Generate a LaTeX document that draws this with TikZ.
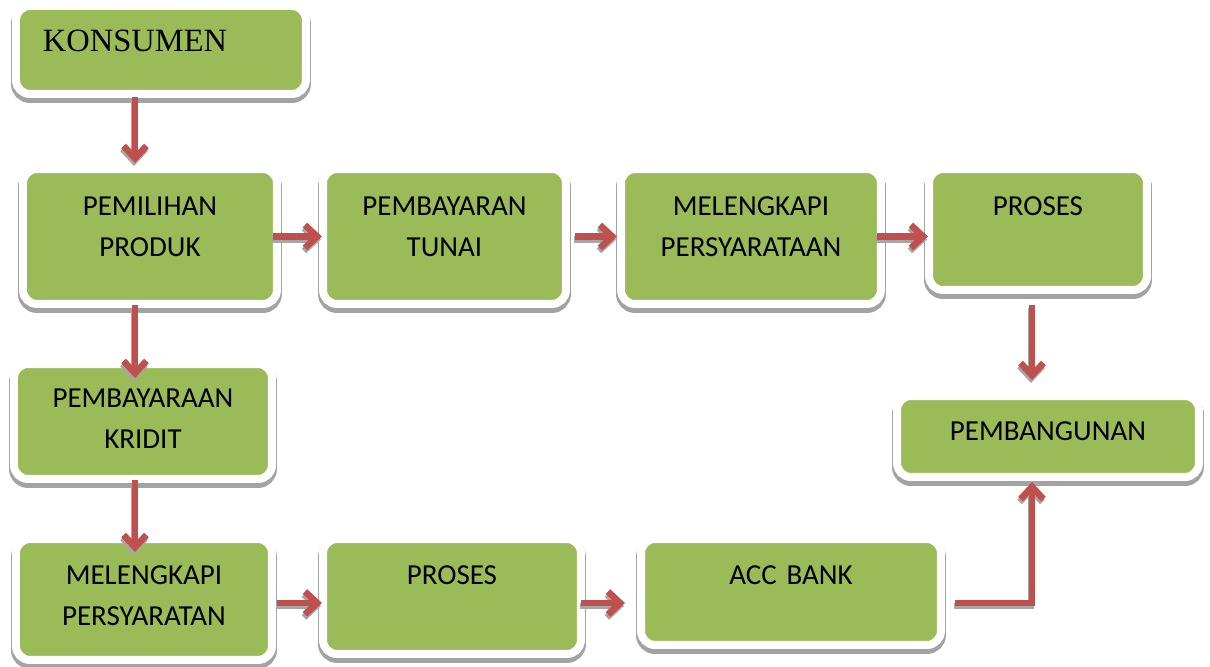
\documentclass[tikz,border=0pt]{standalone}
\usepackage{fontspec}
\setmainfont{Carlito}
\newfontfamily\kfont{Liberation Serif}
\usetikzlibrary{arrows.meta}
\definecolor{boxgreen}{HTML}{9BBB59}
\definecolor{flowred}{HTML}{C0504D}
\definecolor{shadegray}{HTML}{A3A3A3}
\tikzset{
  box/.style={anchor=north west, fill=boxgreen, draw=white, line width=0.16cm,
    rounded corners=0.28cm, inner sep=0pt, outer sep=0pt, align=center,
    font=\fontsize{16.5}{22.8}\selectfont,
    preaction={draw=shadegray, fill=shadegray, line width=0.2cm,
      transform canvas={yshift=-0.08cm}}},
  flow/.style={draw=flowred, line width=0.13cm,
    -{Straight Barb[length=7pt,width=13pt]}},
  flowshade/.style={flow, draw=black!35, transform canvas={shift={(-0.02cm,-0.06cm)}}}
}
\newcommand\flowpath[2][]{\draw[flowshade,#1] #2; \draw[flow,#1] #2;}

\begin{document}
\begin{tikzpicture}[x=0.02cm, y=-0.02cm]
		%%%%% START %%%%%
		\useasboundingbox (0,0) rectangle (1210,666);
		
		\node[box, font=\kfont\fontsize{18.5}{22}\selectfont, align=left, inner xsep=0.54cm,
		  text width=4.72cm, text height=0.92cm, text depth=0.84cm] (konsumen) at (16,6) {KONSUMEN};
		
		\node[box, text width=5.08cm, text height=0.94cm, text depth=1.76cm] (pilih) at (23,169) {PEMILIHAN\\PRODUK};
		\node[box, text width=4.86cm, text height=0.94cm, text depth=1.76cm] (tunai) at (323,169) {PEMBAYARAN\\TUNAI};
		\node[box, text width=5.2cm, text height=0.94cm, text depth=1.76cm] (syarat1) at (621,169) {MELENGKAPI\\PERSYARATAAN};
		\node[box, text width=4.36cm, text height=0.94cm, text depth=1.48cm] (proses1) at (929,169) {PROSES};
		
		\node[box, text width=5.16cm, text height=0.88cm, text depth=1.42cm] (kredit) at (14,364) {PEMBAYARAAN\\KRIDIT};
		\node[box, text width=6.04cm, text height=0.9cm, text depth=0.72cm] (bangun) at (897,396) {PEMBANGUNAN};
		
		\node[box, text width=5.12cm, text height=0.92cm, text depth=1.5cm] (syarat2) at (16,539) {MELENGKAPI\\PERSYARATAN};
		\node[box, text width=5.16cm, text height=0.92cm, text depth=1.38cm] (proses2) at (323,539) {PROSES};
		\node[box, text width=6cm, text height=0.92cm, text depth=1.2cm] (acc) at (641,539) {ACC BANK};
		
		\coordinate (lane) at (135,0);
		\coordinate (rlane) at (1032,0);
		\coordinate (row3) at (0,603);
		
		\flowpath[shorten <=0.06cm, shorten >=0.12cm]{(konsumen.south -| lane) -- (pilih.north -| lane)}
		\flowpath[shorten <=0.02cm, shorten >=-0.28cm]{(pilih.south -| lane) -- (kredit.north -| lane)}
		\flowpath[shorten <=0.02cm, shorten >=-0.26cm]{(kredit.south -| lane) -- (syarat2.north -| lane)}
		
		\flowpath[shorten <=-0.08cm, shorten >=0.02cm]{(pilih.east) -- (tunai.west)}
		\flowpath[shorten <=0.18cm, shorten >=0.08cm]{(tunai.east) -- (syarat1.west)}
		\flowpath[shorten <=-0.08cm, shorten >=0.02cm]{(syarat1.east) -- (syarat1.east -| proses1.west)}
		\flowpath[shorten <=0.3cm, shorten >=0.32cm]{(proses1.south -| rlane) -- (bangun.north -| rlane)}
		
		\flowpath[shorten <=0.1cm, shorten >=0.02cm]{(syarat2.east |- row3) -- (proses2.west |- row3)}
		\flowpath[shorten >=0.32cm]{(proses2.east |- row3) -- (acc.west |- row3)}
		\flowpath[shorten <=0.28cm, shorten >=0.1cm]{(acc.east |- row3) -| (bangun.south -| rlane)}
		%%%%% END %%%%%
	\end{tikzpicture}
\end{document}
